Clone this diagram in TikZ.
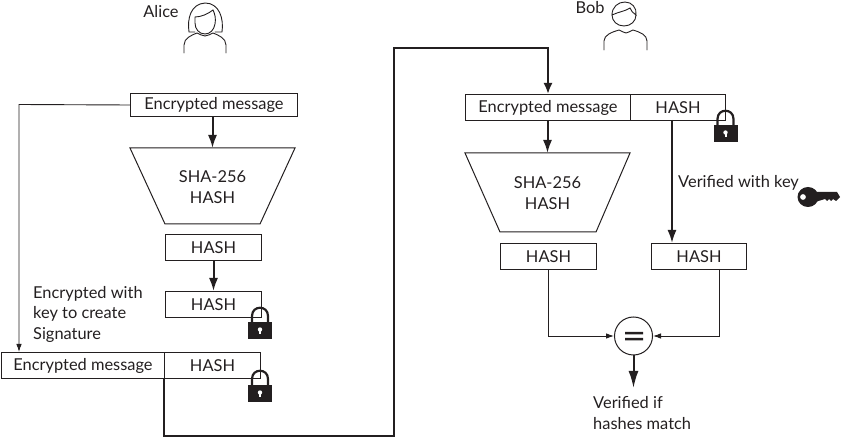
\documentclass[tikz,border=0pt]{standalone}
\usepackage{fontspec}
\setmainfont{Lato}
\usetikzlibrary{arrows.meta,calc}
\definecolor{ink}{HTML}{231F20}
\tikzset{
  x=1pt,y=-1pt,
  every node/.style={text=ink,font=\fontsize{16.4}{20.6}\selectfont},
  cell/.style={draw=ink,line width=1pt,inner sep=0pt,anchor=north west},
  funnel/.style={draw=ink,line width=1pt},
  thinl/.style={draw=ink,line width=.9pt,-{Latex[length=8pt,width=5.5pt]}},
  thickl/.style={draw=ink,line width=2pt,-{Latex[length=13pt,width=9pt]}},
  plain/.style={align=left,inner sep=0pt},
  lock/.pic={
    \fill[ink] (-12,0) rectangle (12,17);
    \draw[ink,line width=2.2pt] (-8,0) -- (-8,-6) .. controls (-8,-17) and (8,-17) .. (8,-6) -- (8,0);
    \fill[white] (0,7.5) circle[radius=2.2];
    \fill[white] (-1,7.5) rectangle (1,12);
  },
  person/.style={draw=ink,line width=.9pt,line cap=round}
}
\begin{document}
\begin{tikzpicture}
\useasboundingbox (0,0) rectangle (841,438);
% Alice
\node[plain] (alice) at (161,12) {Alice};
\draw[person] (184,53) -- (184,45) .. controls (184,38) and (192,35) .. (197,33) .. controls (200,34) and (202,36) .. (205,36) .. controls (208,36) and (210,34) .. (213,33) .. controls (218,35) and (226,38) .. (226,45) -- (226,53);
\draw[person] (195,32) -- (189,32) .. controls (187,18) and (191,4) .. (205,3) .. controls (219,3) and (224,18) .. (222,32) -- (215,32);
\draw[person] (195,17) .. controls (201,17) and (208,14) .. (213,10) .. controls (215,14) and (216,19) .. (215,24) .. controls (214,30) and (210,34) .. (205,34) .. controls (199,34) and (195,29) .. (195,23) -- cycle;
% Bob
\node[plain] (bob) at (590,8) {Bob};
\draw[person] (604,50) -- (604,41) .. controls (604,35) and (612,32) .. (619,30) .. controls (622,31) and (624,33) .. (626,33) .. controls (628,33) and (630,31) .. (633,30) .. controls (640,32) and (647,35) .. (647,41) -- (647,50);
\draw[person] (612,15) .. controls (612,21) and (617,26) .. (624,26) .. controls (631,26) and (636,21) .. (636,15);
\draw[person] (612,15) .. controls (612,7) and (618,2) .. (625,2) .. controls (632,2) and (637,8) .. (636,15) .. controls (633,13) and (631,11) .. (630,8) .. controls (626,11) and (618,12) .. (612,15);
% Alice boxes
\node[cell,minimum width=167pt,minimum height=23pt] (m1) at (130,93) {Encrypted message};
\coordinate (s1top) at (212.5,148);
\draw[funnel] (130,148) -- (295,148) -- (260,224) -- (165,224) -- cycle;
\node[align=center,inner sep=0pt] (s1t) at (212.5,187) {SHA-256\\HASH};
\node[cell,minimum width=96pt,minimum height=26pt] (h1) at (165,234) {HASH};
\node[cell,minimum width=96pt,minimum height=26pt] (h2) at (165,291) {HASH};
\node[cell,minimum width=163pt,minimum height=26pt] (m2) at (1,352) {Encrypted message};
\node[cell,minimum width=96pt,minimum height=26pt] (h3) at (164,352) {HASH};
\node[plain,anchor=north west] (cap) at (33,286) {Encrypted with\\key to create\\Signature};
\draw[thickl] (m1.south -| s1top) -- (s1top);
\draw[thickl] (h1) -- (h2);
\coordinate (t1) at (19,104.5);
\draw[thinl] (m1.west) -- (t1) -- (m2.north -| t1);
\coordinate (c1) at (394,436);
\coordinate (c2) at (394,48);
% Bob boxes
\node[cell,minimum width=165pt,minimum height=26pt] (m3) at (465,94) {Encrypted message};
\node[cell,minimum width=95pt,minimum height=26pt] (h4) at (630,94) {HASH};
\coordinate (s2top) at (547.5,153);
\draw[funnel] (465,153) -- (630,153) -- (596,232) -- (500,232) -- cycle;
\node[align=center,inner sep=0pt] (s2t) at (547.5,193) {SHA-256\\HASH};
\node[cell,minimum width=96pt,minimum height=26pt] (h5) at (500,243) {HASH};
\node[cell,minimum width=95pt,minimum height=26pt] (h6) at (651,243) {HASH};
\node[circle,draw=ink,line width=1pt,minimum size=38pt,inner sep=0pt] (eq) at (633.5,336) {};
\fill[ink] (625,332) rectangle (643,334.5) (625,338) rectangle (643,340.5);
\node[plain,anchor=north west] (vk) at (678,175) {Verified with key};
\node[plain,anchor=north west] (vm) at (593,396.5) {Verified if\\hashes match};
\coordinate (c3) at (548,48);
\coordinate (b1) at (672,120);
\coordinate (b2) at (719,269);
\draw[draw=ink,line width=2pt,-{Latex[length=11pt,width=9pt]}] (h3.south west) -- (164,436) -- (c1) -- (c2) -- (c3) -- (m3.north -| c3);
\draw[thickl] (m3.south -| s2top) -- (s2top);
\draw[thickl] (b1) -- (b1 |- h6.north);
\draw[thinl] (h5.south) -- (h5.south |- eq.west) -- (eq.west);
\draw[thinl] (b2) -- (b2 |- eq.east) -- (eq.east);
\coordinate (vt) at (633.5,388);
\draw[draw=ink,line width=2pt,-{Latex[length=17pt,width=10pt]}] (eq.south) -- (vt);
% locks
\pic at (260,322) {lock};
\pic at (260,385) {lock};
\pic at (725.5,125) {lock};
% key
\fill[ink,even odd rule] (808,197) ellipse[x radius=10.5,y radius=10] (803,197) circle[radius=3];
\fill[ink] (815,192) -- (837,192) -- (840,197) -- (836,201) -- (833,199) -- (831,201) -- (829,199) -- (827,201) -- (825,199) -- (815,202) -- cycle;
\end{tikzpicture}
\end{document}
